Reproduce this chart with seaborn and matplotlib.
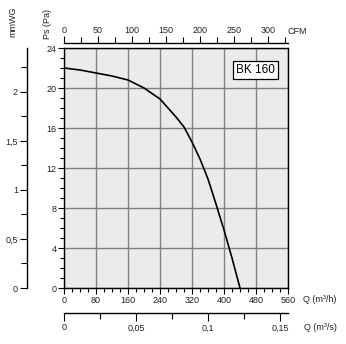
import matplotlib
matplotlib.use("Agg")
import matplotlib.pyplot as plt
from matplotlib.ticker import MultipleLocator, FixedLocator, FuncFormatter
import seaborn as sns
import pandas as pd

# data
q_m3h = [0, 40, 80, 120, 160, 200, 240, 280, 300, 320, 340, 360, 380, 400, 420, 440]
ps_pa = [22.0, 21.8, 21.5, 21.2, 20.8, 20.0, 18.9, 17.1, 16.1, 14.6, 12.9, 10.9, 8.4, 5.8, 3.0, 0.0]
model_label = "BK 160"

sns.set_theme(style="white")
plt.rcParams['font.family'] = ['Liberation Sans', 'DejaVu Sans']
plt.rcParams['font.size'] = 6.5

W, H = 346, 344
fig = plt.figure(figsize=(W / 100, H / 100), dpi=100)
L, R, T, B = 64, 288, 48, 288
ax = fig.add_axes([L / W, 1 - B / H, (R - L) / W, (B - T) / H])
ax.set_facecolor('#ebebeb')

df = pd.DataFrame({"Q": q_m3h, "Ps": ps_pa})
sns.lineplot(data=df, x="Q", y="Ps", ax=ax, color='black', lw=1.2)
ax.set_xlim(0, 560)
ax.set_ylim(0, 24)
ax.set_xlabel("")
ax.set_ylabel("")

ax.xaxis.set_major_locator(MultipleLocator(80))
ax.xaxis.set_minor_locator(MultipleLocator(20))
ax.yaxis.set_major_locator(MultipleLocator(4))
ax.yaxis.set_minor_locator(MultipleLocator(1))
ax.grid(True, which='major', color='#808080', lw=1.0)
for s in ax.spines.values():
    s.set_color('black')
    s.set_linewidth(1.0)
    s.set_visible(True)
ax.tick_params(axis='both', which='major', direction='out', length=4, width=0.8,
               color='black', labelsize=6.5, pad=1.5, labelcolor='#222222')
ax.tick_params(axis='both', which='minor', direction='out', length=3, width=0.8,
               color='black')
ax.tick_params(axis='x', which='both', bottom=True, top=False)
ax.tick_params(axis='y', which='both', left=True, right=False)

# top CFM axis
cfm = ax.secondary_xaxis(1 + 5 / 240, functions=(lambda x: x / 1.699, lambda c: c * 1.699))
cfm.xaxis.set_major_locator(FixedLocator([0, 50, 100, 150, 200, 250, 300]))
cfm.xaxis.set_minor_locator(FixedLocator([25, 75, 125, 175, 225, 275, 325]))
cfm.tick_params(which='major', direction='out', length=5, width=0.8, color='black',
                labelsize=6.5, pad=1, labelcolor='#222222')
cfm.tick_params(which='minor', direction='out', length=4, width=0.8, color='black')
for s in cfm.spines.values():
    s.set_color('black')
    s.set_linewidth(1.0)

# bottom m3/s axis
qs = ax.secondary_xaxis(-25 / 240, functions=(lambda x: x / 3600, lambda s: s * 3600))
qs.xaxis.set_major_locator(FixedLocator([0, 0.05, 0.1, 0.15]))
qs.xaxis.set_minor_locator(FixedLocator([0.025, 0.075, 0.125]))
qs.xaxis.set_major_formatter(FuncFormatter(lambda v, p: ("%g" % v).replace('.', ',')))
qs.tick_params(which='major', direction='out', length=6, width=0.8, color='black',
               labelsize=6.5, pad=1.5, labelcolor='#222222')
qs.tick_params(which='minor', direction='out', length=4, width=0.8, color='black')
for s in qs.spines.values():
    s.set_color('black')
    s.set_linewidth(1.0)

# left mmWG axis
mm = ax.secondary_yaxis((27 - 64) / 224, functions=(lambda p: p / 9.80665, lambda m: m * 9.80665))
mm.yaxis.set_major_locator(FixedLocator([0, 0.5, 1, 1.5, 2]))
mm.yaxis.set_minor_locator(FixedLocator([0.25, 0.75, 1.25, 1.75, 2.25]))
mm.yaxis.set_major_formatter(FuncFormatter(lambda v, p: ("%g" % v).replace('.', ',')))
mm.tick_params(which='major', direction='out', length=5, width=0.8, color='black',
               labelsize=6.5, pad=1.5, labelcolor='#222222')
mm.tick_params(which='minor', direction='out', length=4, width=0.8, color='black')
for s in mm.spines.values():
    s.set_color('black')
    s.set_linewidth(1.0)

# unit labels
fig.text(287 / W, 1 - 31.5 / H, "CFM", fontsize=6.5, va='center', ha='left', color='#222222')
fig.text(303 / W, 1 - 299 / H, "Q (m³/h)", fontsize=6.5, va='center', ha='left', color='#222222')
fig.text(304 / W, 1 - 327 / H, "Q (m³/s)", fontsize=6.5, va='center', ha='left', color='#222222')
fig.text(48 / W, 1 - 24 / H, "Ps (Pa)", fontsize=6.5, rotation=90, va='center', ha='center', color='#222222')
fig.text(13 / W, 1 - 22 / H, "mmWG", fontsize=6.5, rotation=90, va='center', ha='center', color='#222222')

ax.text(0.855, 0.908, model_label, transform=ax.transAxes, fontsize=8.5, ha='center', va='center',
        color='black', bbox=dict(boxstyle='square,pad=0.25', fc='white', ec='black', lw=0.9))

fig.savefig("out.png", dpi=100)
